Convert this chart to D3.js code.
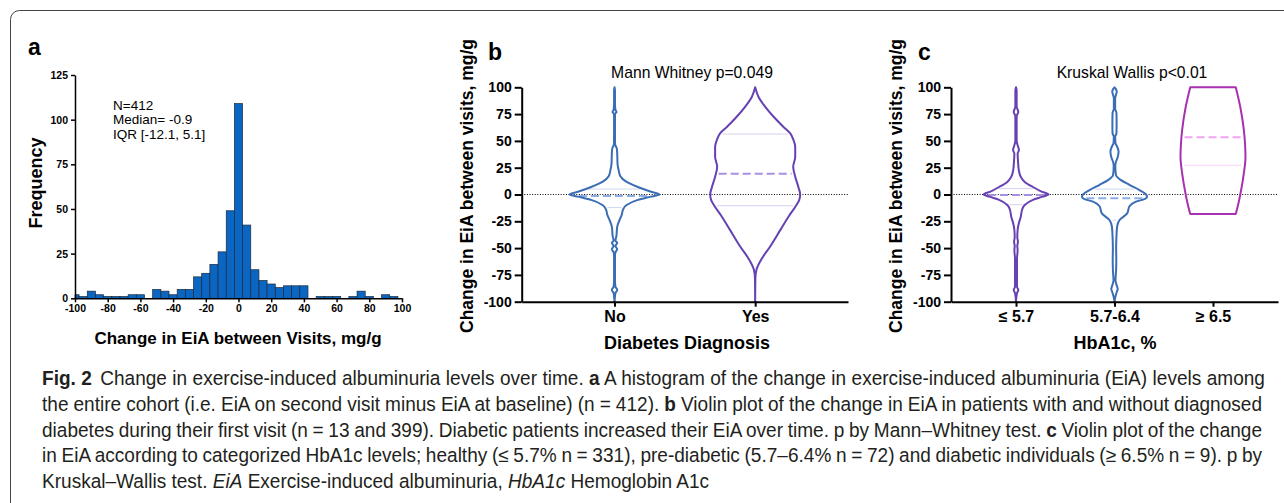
<!DOCTYPE html>
<html><head><meta charset="utf-8">
<script src="https://cdn.jsdelivr.net/npm/d3@7"></script>
<style>
body{margin:0;background:#fff;}
svg{display:block;font-family:"Liberation Sans",Arial,sans-serif;}
</style></head><body>
<svg id="chart" width="1284" height="503"></svg>
<script>
// ---------- DATA ----------
const histCenters = [-100,-95,-90,-85,-80,-75,-70,-65,-60,-55,-50,-45,-40,-35,-30,-25,-20,-15,-10,-5,0,5,10,15,20,25,30,35,40,45,50,55,60,65,70,75,80,85,90,95];
const histCounts  = [2,1,4,2,1,1,1,2,2,0,5,4,2,5,5,12,14,19,26,49,109,41,16,10,8,6,7,7,7,0,1,1,1,0,1,4,1,0,2,1];
const histBinWidth = 5;
const histXTicks = [-100,-80,-60,-40,-20,0,20,40,60,80,100];
const histYTicks = [0,25,50,75,100,125];
const histNotes = ["N=412","Median= -0.9","IQR [-12.1, 5.1]"];

const violinYTicks = [-100,-75,-50,-25,0,25,50,75,100];
const diabetesCats = ["No","Yes"];
const hbCats = ["≤ 5.7","5.7-6.4","≥ 6.5"];

// [value, relative density]
const profileNo = [[100,0],[97,0.01],[85,0.01],[79,0.02],[77,0.045],[75,0.01],[60,0.01],[47,0.012],[43,0.05],[38,0.06],[30,0.065],[26,0.075],[23,0.09],[17,0.13],[12,0.26],[7,0.52],[3,0.78],[0,1],[-2,0.81],[-5,0.52],[-10,0.26],[-14,0.19],[-19,0.16],[-24,0.11],[-30,0.06],[-39,0.04],[-43,0.02],[-45,0.06],[-48,0.02],[-51,0.06],[-54,0.02],[-57,0.01],[-80,0.01],[-86,0.02],[-89,0.06],[-92,0.02],[-95,0.01],[-100,0]];
const profileYes = [[100,0],[91,0.075],[82,0.22],[72.5,0.41],[63,0.63],[57,0.78],[51,0.85],[44.5,0.89],[35,0.89],[26,0.845],[16.6,0.89],[7,0.96],[0,1],[-5,0.98],[-11,0.9],[-20.7,0.74],[-33,0.56],[-48.7,0.33],[-61,0.13],[-70,0.03],[-78,0.005],[-100,0]];
const profileLow = [[100,0],[97,0.02],[82,0.02],[77,0.07],[73,0.02],[50,0.02],[46,0.05],[41.5,0.09],[38,0.05],[32,0.06],[23,0.085],[16.6,0.145],[12,0.26],[7,0.52],[3,0.77],[0,1],[-2,0.82],[-5,0.52],[-10,0.26],[-14,0.19],[-21,0.145],[-27,0.085],[-33,0.05],[-40,0.04],[-44,0.06],[-48,0.04],[-52,0.05],[-60,0.03],[-75,0.03],[-86,0.03],[-89,0.07],[-92,0.03],[-100,0]];
const profileMid = [[100,0],[98,0.05],[96,0.07],[90,0.02],[80,0.02],[76,0.06],[66,0.065],[57,0.06],[54,0.02],[48,0.03],[44,0.09],[40,0.125],[35,0.1],[30,0.04],[26,0.025],[18,0.045],[13.4,0.2],[9,0.46],[4,0.77],[0,0.97],[-2,1],[-4,0.95],[-6.6,0.66],[-11,0.46],[-17.6,0.39],[-24,0.15],[-30,0.08],[-39,0.06],[-50,0.05],[-60,0.055],[-70,0.05],[-80,0.03],[-85,0.07],[-88,0.1],[-91,0.07],[-95,0.03],[-100,0]];
const profileHigh = [[100,0.70],[80,0.85],[60,0.95],[45,0.99],[35,1],[20,0.95],[0,0.84],[-10,0.77],[-18.2,0.70]];

// [Q1, median, Q3]
const quartNo = [-12.1,-1.5,5.1];
const quartYes = [-10.5,19.4,56.4];
const quartLow = [-9.5,-0.5,5.5];
const quartMid = [-24,-3.6,5];
const quartHigh = [27.3,53.3,100];

const captionLines = [
  [["Fig. 2","b"],[" Change in exercise-induced albuminuria levels over time. ",""],["a","b"],[" A histogram of the change in exercise-induced albuminuria (EiA) levels among",""]],
  [["the entire cohort (i.e. EiA on second visit minus EiA at baseline) (n = 412). ",""],["b","b"],[" Violin plot of the change in EiA in patients with and without diagnosed",""]],
  [["diabetes during their first visit (n = 13 and 399). Diabetic patients increased their EiA over time. p by Mann–Whitney test. ",""],["c","b"],[" Violin plot of the change",""]],
  [["in EiA according to categorized HbA1c levels; healthy (≤ 5.7% n = 331), pre-diabetic (5.7–6.4% n = 72) and diabetic individuals (≥ 6.5% n = 9). p by",""]],
  [["Kruskal–Wallis test. ",""],["EiA","i"],[" Exercise-induced albuminuria, ",""],["HbA1c","i"],[" Hemoglobin A1c",""]]
];

// ---------- DRAW ----------
const svg = d3.select("#chart");
const FONT = "'Liberation Sans', Arial, sans-serif";
const fmt = d => String(d);

svg.append("rect").attr("x",10.5).attr("y",10.5).attr("width",1300).attr("height",520)
  .attr("rx",9).attr("fill","none").attr("stroke","#444").attr("stroke-width",1);

function styleAxis(g, fs, sw){
  g.attr("font-family",FONT).attr("font-size",fs).attr("font-weight","bold");
  g.selectAll("path,line").attr("stroke","#000").attr("stroke-width",sw);
  g.selectAll("text").attr("fill","#000");
}
function label(x,y,t,opts={}){
  const el = svg.append("text").attr("x",x).attr("y",y).text(t)
    .attr("font-family",FONT).attr("fill","#000")
    .attr("font-size",opts.fs||14).attr("font-weight",opts.fw||"normal")
    .attr("text-anchor",opts.anchor||"start");
  if(opts.rot) el.attr("transform",`rotate(-90,${x},${y})`);
  return el;
}

// ---- Panel a: histogram ----
const hx = d3.scaleLinear().domain([-100,100]).range([75,402]);
const hy = d3.scaleLinear().domain([0,125]).range([298.3,75]);
const gA = svg.append("g");
gA.selectAll("rect").data(histCenters.map((c,i)=>({c,n:histCounts[i]})).filter(d=>d.n>0))
  .join("rect")
  .attr("x",d=>hx(Math.max(d.c-histBinWidth/2,-100)))
  .attr("width",d=>hx(d.c+histBinWidth/2)-hx(Math.max(d.c-histBinWidth/2,-100)))
  .attr("y",d=>hy(d.n)).attr("height",d=>hy(0)-hy(d.n))
  .attr("fill","#0b66c3").attr("stroke","#1c2a3a").attr("stroke-width",0.7);
const axAy = svg.append("g").attr("transform","translate(75,0)")
  .call(d3.axisLeft(hy).tickValues(histYTicks).tickFormat(fmt).tickSize(4).tickSizeOuter(0).tickPadding(3));
styleAxis(axAy,10.5,1.5);
const axAx = svg.append("g").attr("transform","translate(0,298.3)")
  .call(d3.axisBottom(hx).tickValues(histXTicks).tickFormat(fmt).tickSize(4).tickSizeOuter(0).tickPadding(2));
styleAxis(axAx,10.5,1.5);
label(28,55,"a",{fs:23,fw:"bold"});
label(42,183,"Frequency",{fs:18,fw:"bold",anchor:"middle",rot:true});
label(238,344,"Change in EiA between Visits, mg/g",{fs:17,fw:"bold",anchor:"middle"});
histNotes.forEach((t,i)=>label(113,109.5+i*14.8,t,{fs:13.5}));

// ---- Violin panels ----
const vy = d3.scaleLinear().domain([-100,100]).range([301.7,87.3]);
const COLORS = {
  blue:{stroke:"#3a6db4",med:"#8daee2",q:"#cdd9ef"},
  purple:{stroke:"#6741b2",med:"#aa8ee2",q:"#d9cff2"},
  magenta:{stroke:"#a731b0",med:"#f0a4f0",q:"#f3d2f3"}
};
function drawViolin(profile, quart, cx, w, col){
  const interp = d3.scaleLinear().domain(profile.map(d=>d[0])).range(profile.map(d=>d[1]));
  const g = svg.append("g");
  [quart[0],quart[2]].forEach(v=>{
    const hw = Math.max(0,w(interp(v))-3);
    g.append("line").attr("x1",cx-hw).attr("x2",cx+hw).attr("y1",vy(v)).attr("y2",vy(v))
      .attr("stroke",col.q).attr("stroke-width",1);
  });
  const hm = Math.max(0,w(interp(quart[1]))-3);
  g.append("line").attr("x1",cx-hm).attr("x2",cx+hm).attr("y1",vy(quart[1])).attr("y2",vy(quart[1]))
    .attr("stroke",col.med).attr("stroke-width",2).attr("stroke-dasharray","8,4");
  const area = d3.area().curve(d3.curveMonotoneY)
    .y(d=>vy(d[0])).x0(d=>cx-w(d[1])).x1(d=>cx+w(d[1]));
  g.append("path").attr("d",area(profile)).attr("fill","none")
    .attr("stroke",col.stroke).attr("stroke-width",2).attr("stroke-linejoin","round");
}
function panel(x0,x1,cats,profiles,quarts,cols,maxHW,opts){
  const px = d3.scalePoint().domain(cats).range([x0,x1]).padding(0.66);
  const w = d3.scaleLinear().domain([0,1]).range([0,maxHW]);
  svg.append("line").attr("x1",x0).attr("x2",x1).attr("y1",vy(0)).attr("y2",vy(0))
    .attr("stroke","#000").attr("stroke-width",1).attr("stroke-dasharray","1,1.6");
  cats.forEach((c,i)=>drawViolin(profiles[i],quarts[i],px(c),w,cols[i]));
  const ay = svg.append("g").attr("transform",`translate(${x0},0)`)
    .call(d3.axisLeft(vy).tickValues(violinYTicks).tickFormat(fmt).tickSize(7).tickSizeOuter(0).tickPadding(3));
  styleAxis(ay,14,2);
  const ax = svg.append("g").attr("transform",`translate(0,${vy(-100)})`)
    .call(d3.axisBottom(px).tickSize(5).tickSizeOuter(0).tickPadding(4));
  styleAxis(ax,16,2);
  label(opts.letterX,60,opts.letter,{fs:23,fw:"bold"});
  label(x0-49,186,"Change in EiA between visits, mg/g",{fs:17.5,fw:"bold",anchor:"middle",rot:true});
  label(opts.titleX,349,opts.title,{fs:18,fw:"bold",anchor:"middle"});
  label(opts.statX,78,opts.stat,{fs:15.7,anchor:"middle"});
}
panel(521.7,848,diabetesCats,[profileNo,profileYes],[quartNo,quartYes],[COLORS.blue,COLORS.purple],45,
  {letter:"b",letterX:488,title:"Diabetes Diagnosis",titleX:687,stat:"Mann Whitney p=0.049",statX:692});
panel(951,1278,hbCats,[profileLow,profileMid,profileHigh],[quartLow,quartMid,quartHigh],[COLORS.purple,COLORS.blue,COLORS.magenta],32.5,
  {letter:"c",letterX:918,title:"HbA1c, %",titleX:1115,stat:"Kruskal Wallis p<0.01",statX:1132});

// ---- Caption (condensed by horizontal scaling, justified) ----
const CAPFONT = "'Liberation Sans Narrow','Liberation Sans',Arial,sans-serif";
const capX = 42, capTarget = 1220, capBase = [385,411,437,462,488], capFS = 19.5;
function makeLine(i){
  const g = svg.append("g");
  const t = g.append("text").attr("x",0).attr("y",0)
    .attr("font-family",CAPFONT).attr("font-size",capFS).attr("fill","#231f20");
  captionLines[i].forEach(([s,st],k)=>{
    const sp = t.append("tspan").text(s);
    if(st==="b") sp.attr("font-weight","bold");
    if(st==="i") sp.attr("font-style","italic");
    if(i===0 && k===1) sp.attr("dx",3);
  });
  return {g,t};
}
const probe = makeLine(0);
const nat0 = probe.t.node().getComputedTextLength();
probe.g.remove();
const sx = (capTarget-2)/nat0;
captionLines.forEach((ln,i)=>{
  const {g,t} = makeLine(i);
  g.attr("transform",`translate(${capX},${capBase[i]}) scale(${sx},1)`);
  if(i<4){
    const n = t.node().getComputedTextLength();
    const str = ln.map(d=>d[0]).join("");
    const spaces = (str.match(/ /g)||[]).length;
    if(spaces>0) t.attr("word-spacing",(capTarget/sx - n)/spaces);
  }
});
</script>
</body></html>
